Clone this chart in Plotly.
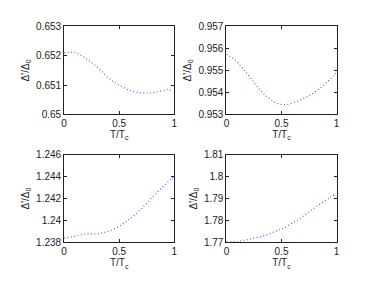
import plotly.graph_objects as go

# Data
t1 = [0.0, 0.1, 0.16, 0.22, 0.28, 0.34, 0.40, 0.46, 0.52, 0.58, 0.64, 0.70, 0.76, 0.82, 0.88, 0.94, 0.985]
d1 = [0.65210, 0.65211, 0.65200, 0.65185, 0.65168, 0.65147, 0.65125, 0.65109, 0.65096, 0.65084,
      0.65077, 0.65073, 0.65073, 0.65075, 0.65080, 0.65085, 0.65078]

t2 = [0.0, 0.07, 0.13, 0.19, 0.25, 0.31, 0.37, 0.43, 0.49, 0.55, 0.61, 0.67, 0.73, 0.79, 0.85, 0.91, 0.97, 1.0]
d2 = [0.95573, 0.95551, 0.95520, 0.95484, 0.95445, 0.95409, 0.95380, 0.95358, 0.95346, 0.95345,
      0.95354, 0.95365, 0.95380, 0.95397, 0.95419, 0.95445, 0.95474, 0.95496]

t3 = [0.0, 0.08, 0.16, 0.22, 0.28, 0.34, 0.40, 0.46, 0.52, 0.58, 0.64, 0.70, 0.76, 0.82, 0.88, 0.94, 1.0]
d3 = [1.23841, 1.23853, 1.23873, 1.23879, 1.23879, 1.23885, 1.23902, 1.23926, 1.23961, 1.24001,
      1.24048, 1.24107, 1.24168, 1.24232, 1.24291, 1.24349, 1.24401]

t4 = [0.0, 0.1, 0.16, 0.22, 0.28, 0.34, 0.40, 0.46, 0.52, 0.58, 0.64, 0.70, 0.76, 0.82, 0.88, 0.94, 0.985]
d4 = [1.7703, 1.7704, 1.7710, 1.7716, 1.7723, 1.7730, 1.7742, 1.7754, 1.7766, 1.7783,
      1.7799, 1.7821, 1.7843, 1.7865, 1.7884, 1.7904, 1.7920]

x_ticks = [0, 0.5, 1]
x_tick_text = ["0", "0.5", "1"]
y_ticks = [
    [0.650, 0.651, 0.652, 0.653],
    [0.953, 0.954, 0.955, 0.956, 0.957],
    [1.238, 1.240, 1.242, 1.244, 1.246],
    [1.77, 1.78, 1.79, 1.80, 1.81],
]
y_tick_text = [
    ["0.65", "0.651", "0.652", "0.653"],
    ["0.953", "0.954", "0.955", "0.956", "0.957"],
    ["1.238", "1.24", "1.242", "1.244", "1.246"],
    ["1.77", "1.78", "1.79", "1.8", "1.81"],
]
y_ranges = [[0.650, 0.653], [0.953, 0.957], [1.238, 1.246], [1.77, 1.81]]

series = [(t1, d1), (t2, d2), (t3, d3), (t4, d4)]

# page body has an 8px margin; size the figure so it sits inside the window
OFF = 8
W, H = 374 - OFF, 281 - OFF
xdoms = [[(62 - OFF) / W, (174 - OFF) / W], [(227 - OFF) / W, (339 - OFF) / W]]
ydoms = [[1 - (113 - OFF) / H, 1 - (21 - OFF) / H], [1 - (247 - OFF) / H, 1 - (155 - OFF) / H]]

fig = go.Figure()
font = dict(family="Liberation Sans, Arial, sans-serif", size=10, color="#222")

for i, (tx, dy) in enumerate(series):
    n = i + 1
    xa = "x" if n == 1 else f"x{n}"
    ya = "y" if n == 1 else f"y{n}"
    fig.add_trace(go.Scatter(
        x=tx, y=dy, mode="lines", xaxis=xa, yaxis=ya,
        line=dict(color="rgb(90,90,255)", width=1.2, dash="1px,2.4px", shape="spline"),
        showlegend=False, hoverinfo="skip",
    ))
    col = i % 2
    row = i // 2
    axcommon = dict(showgrid=False, zeroline=False, showline=True, linecolor="#222",
                    linewidth=1, mirror="ticks", ticks="inside", ticklen=3,
                    tickcolor="#222", tickfont=font)
    fig.layout[f"xaxis{'' if n == 1 else n}"] = dict(
        domain=xdoms[col], anchor=ya, range=[0, 1],
        tickvals=x_ticks, ticktext=x_tick_text,
        title=dict(text="T/T<sub>c</sub>", font=font, standoff=1),
        **axcommon)
    fig.layout[f"yaxis{'' if n == 1 else n}"] = dict(
        domain=ydoms[row], anchor=xa, range=y_ranges[i],
        tickvals=y_ticks[i], ticktext=y_tick_text[i],
        title=dict(text="Δ'/Δ<sub>0</sub>", font=font, standoff=4),
        **axcommon)

fig.update_layout(
    width=W, height=H,
    margin=dict(l=0, r=0, t=0, b=0),
    paper_bgcolor="white", plot_bgcolor="white",
)

fig.write_html("out.html")
